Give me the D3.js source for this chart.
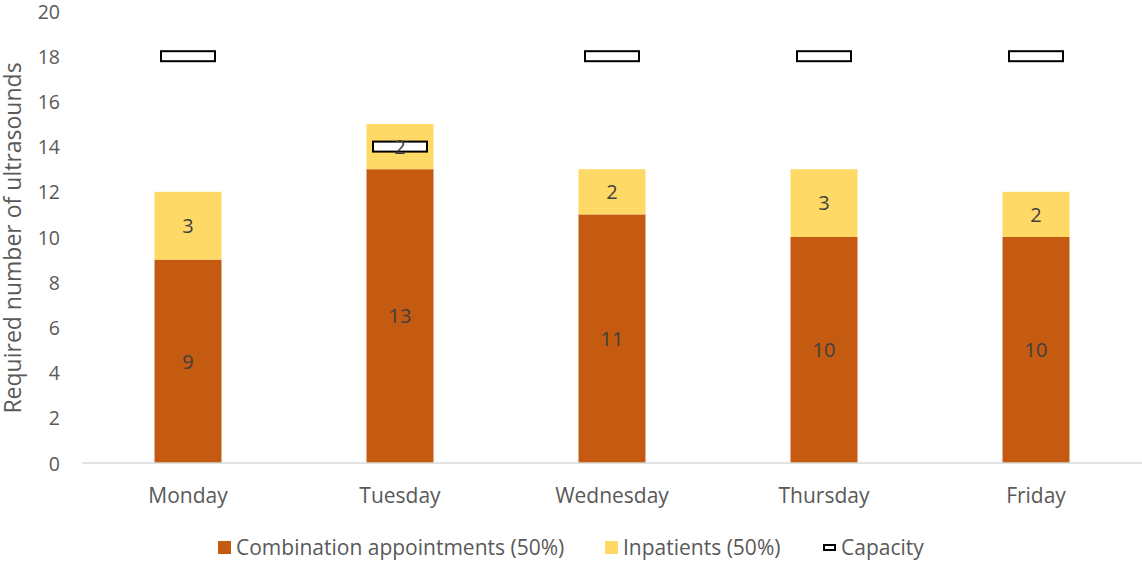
<!DOCTYPE html>
<html>
<head>
<meta charset="utf-8">
<script src="https://cdn.jsdelivr.net/npm/d3@7"></script>
<style>
  html, body { margin: 0; padding: 0; background: #fff; }
  svg { display: block; font-family: "Open Sans", Lato, sans-serif; }
</style>
</head>
<body>
<svg id="chart" width="1142" height="563"></svg>
<script>
// Weekly ultrasound demand vs. capacity
const days = ["Monday", "Tuesday", "Wednesday", "Thursday", "Friday"];
const combination = [9, 13, 11, 10, 10];
const inpatients = [3, 2, 2, 3, 2];
const capacity = [18, 14, 18, 18, 18];
const yTicks = [0, 2, 4, 6, 8, 10, 12, 14, 16, 18, 20];
const seriesNames = ["Combination appointments (50%)", "Inpatients (50%)", "Capacity"];

const colors = { combination: "#C55A11", inpatients: "#FFD966" };
const textColor = "#595959";

const svg = d3.select("#chart");
const margin = { top: 11, right: 0, bottom: 100, left: 82 };
const width = 1142, height = 563;

const x = d3.scaleBand()
  .domain(days)
  .range([margin.left, width - margin.right])
  .paddingInner(0.684)
  .paddingOuter(0.342);

const y = d3.scaleLinear()
  .domain([0, 20])
  .range([463, margin.top]);

// Y axis labels (no line, no ticks)
const yAxis = svg.append("g")
  .attr("transform", `translate(${margin.left},0)`)
  .call(d3.axisLeft(y).tickValues(yTicks).tickSize(0).tickPadding(22));
yAxis.select(".domain").remove();
yAxis.selectAll("text")
  .attr("fill", textColor)
  .attr("dy", "0.36em")
  .style("font-size", "19.5px")
  .style("font-family", "'Open Sans', Lato, sans-serif");

// Y axis title
svg.append("text")
  .attr("transform", `translate(21,${(y(0) + y(20)) / 2 + 1}) rotate(-90)`)
  .attr("text-anchor", "middle")
  .attr("fill", textColor)
  .style("font-size", "23px")
  .text("Required number of ultrasounds");

// Stacked bars
const stackData = days.map((d, i) => ({ day: d, combination: combination[i], inpatients: inpatients[i] }));
const stack = d3.stack().keys(["combination", "inpatients"])(stackData);

const layers = svg.append("g").selectAll("g")
  .data(stack)
  .join("g")
  .attr("fill", d => colors[d.key]);

layers.selectAll("rect")
  .data(d => d)
  .join("rect")
  .attr("x", d => x(d.data.day))
  .attr("width", x.bandwidth())
  .attr("y", d => y(d[1]))
  .attr("height", d => y(d[0]) - y(d[1]));

// X axis baseline
svg.append("line")
  .attr("x1", margin.left).attr("x2", width)
  .attr("y1", y(0)).attr("y2", y(0))
  .attr("stroke", "#D9D9D9").attr("stroke-width", 1.5);

// X axis labels
const xAxis = svg.append("g")
  .attr("transform", `translate(0,${y(0)})`)
  .call(d3.axisBottom(x).tickSize(0).tickPadding(25));
xAxis.select(".domain").remove();
xAxis.selectAll("text")
  .attr("fill", textColor)
  .style("font-size", "21px")
  .style("font-family", "'Open Sans', Lato, sans-serif");

// Capacity markers
const capW = 54, capH = 10;
svg.append("g").selectAll("rect")
  .data(days.map((d, i) => ({ day: d, value: capacity[i] })))
  .join("rect")
  .attr("x", d => x(d.day) + x.bandwidth() / 2 - capW / 2)
  .attr("y", d => y(d.value) - capH / 2)
  .attr("width", capW)
  .attr("height", capH)
  .attr("fill", "#fff")
  .attr("stroke", "#000")
  .attr("stroke-width", 2);

// Value labels in the middle of each segment
const labels = svg.append("g");
stack.forEach(layer => {
  labels.selectAll(null)
    .data(layer)
    .join("text")
    .attr("x", d => x(d.data.day) + x.bandwidth() / 2)
    .attr("y", d => (y(d[0]) + y(d[1])) / 2)
    .attr("dy", "0.36em")
    .attr("text-anchor", "middle")
    .attr("fill", "#404040")
    .style("font-size", "20px")
    .text(d => d[1] - d[0]);
});

// Legend
const legend = svg.append("g").attr("transform", "translate(0,548)");
const legendItems = [
  { name: seriesNames[0], x: 218, type: "box", color: colors.combination },
  { name: seriesNames[1], x: 605, type: "box", color: colors.inpatients },
  { name: seriesNames[2], x: 823, type: "cap" }
];
legendItems.forEach(item => {
  if (item.type === "box") {
    legend.append("rect")
      .attr("x", item.x).attr("y", -7)
      .attr("width", 13).attr("height", 13)
      .attr("fill", item.color);
  } else {
    legend.append("rect")
      .attr("x", item.x + 1).attr("y", -3)
      .attr("width", 11).attr("height", 5)
      .attr("fill", "#fff").attr("stroke", "#000").attr("stroke-width", 2);
  }
  legend.append("text")
    .attr("x", item.x + 18)
    .attr("y", 0)
    .attr("dy", "0.35em")
    .attr("fill", textColor)
    .style("font-size", "21px")
    .text(item.name);
});
</script>
</body>
</html>
